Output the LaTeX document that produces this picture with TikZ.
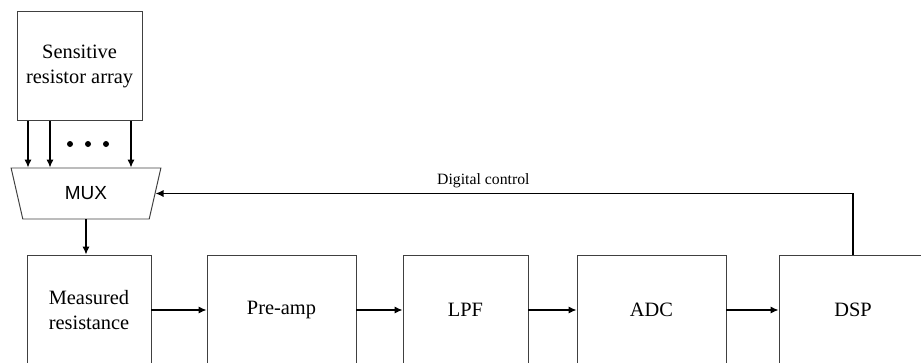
\documentclass[tikz,border=0pt]{standalone}
\usepackage{fontspec}
\setmainfont{Liberation Serif}
\newfontfamily\muxfont{Liberation Sans}
\usetikzlibrary{shapes.geometric,arrows.meta}

\tikzset{
    blk/.style={draw=black!75,line width=0.7pt,minimum height=2.75cm,align=center,
        font=\fontsize{14.5}{17.7}\selectfont},
    arr/.style={-{Latex[length=2mm,width=1.8mm]},line width=0.9pt},
}

\begin{document}
\begin{tikzpicture}
    \useasboundingbox (0,0) rectangle (23.025,9.05);
    \clip (0,0) rectangle (23.025,9.05);
    \node[blk,minimum width=3.125cm,minimum height=2.725cm](sens) at (1.99,7.39){Sensitive\\resistor array};
    \node[draw=black!75,line width=0.7pt,trapezium,shape border rotate=180,trapezium stretches=true,
        trapezium left angle=73.6,trapezium right angle=73.6,minimum width=3.75cm,
        minimum height=1.275cm,inner sep=0pt,font=\muxfont\fontsize{13.5}{15}\selectfont](mux) at (2.15,4.2125){MUX};
    \node[blk,minimum width=3.1cm](meas) at (2.225,1.3){Measured\\resistance};
    \node[blk,minimum width=3.725cm](preamp) at (7.0375,1.3){Pre-amp};
    \node[blk,minimum width=3.125cm](lpf) at (11.6375,1.3){LPF};
    \node[blk,minimum width=3.725cm](adc) at (16.2875,1.3){ADC};
    \node[blk,minimum width=3.7cm](dsp) at (21.325,1.3){DSP};
    % lines from the array into the mux
    \coordinate (s1) at ([xshift=-1.29cm]sens.south);
    \coordinate (s2) at ([xshift=-0.74cm]sens.south);
    \coordinate (s3) at ([xshift=1.285cm]sens.south);
    \foreach \s in {s1,s2,s3}
        \draw[arr](\s)--(\s |- mux.north);
    \foreach \x in {1.75,2.2,2.65}
        \fill(\x,5.45)circle(0.075);
    \draw[arr](mux.south)--(mux.south |- meas.north);
    \draw[arr](meas.east)--(preamp.west);
    \draw[arr](preamp.east)--(lpf.west);
    \draw[arr](lpf.east)--(adc.west);
    \draw[arr](adc.east)--(dsp.west);
    % feedback
    \draw[arr](dsp.north)|-(mux.east)
        node[pos=0.765,above,font=\fontsize{11.2}{13}\selectfont](dc){Digital control};
\end{tikzpicture}
\end{document}
